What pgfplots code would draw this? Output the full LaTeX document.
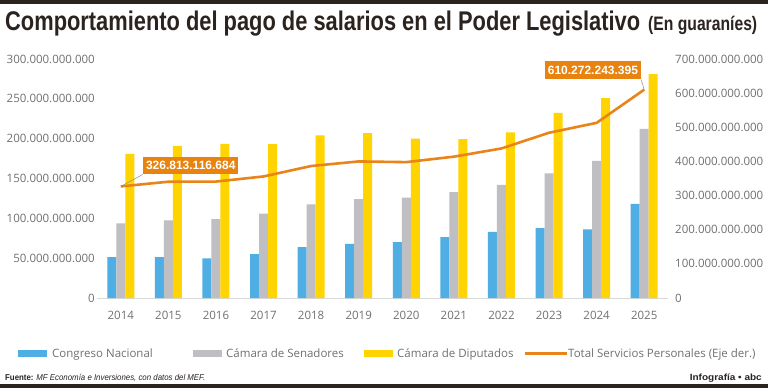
\documentclass[border=0pt]{standalone}
\usepackage{pgfplots}
\pgfplotsset{compat=1.18}
\usepackage{fontspec}
\usepackage{graphicx}
\setmainfont{Open Sans}
\newfontfamily\titlefont{Liberation Sans}
\definecolor{cblue}{HTML}{4FAEE3}
\definecolor{cgray}{HTML}{BEBEC3}
\definecolor{cyellow}{HTML}{FFD400}
\definecolor{corange}{HTML}{E8841A}
\definecolor{cbox}{HTML}{E8830F}
\definecolor{lab}{HTML}{707070}
\definecolor{dark}{HTML}{2A2320}
\begin{document}
\begin{tikzpicture}[x=1pt,y=1pt]
\fill[white] (0,0) rectangle (768,-388);
\fill[dark] (0,0) rectangle (768,-3.5);
\fill[dark] (0,-384) rectangle (768,-388);
\node[anchor=base west, text=dark, inner sep=0] at (5,-30.5) {\titlefont\bfseries\fontsize{27}{27}\selectfont\resizebox{635pt}{\height}{Comportamiento del pago de salarios en el Poder Legislativo}};
\node[anchor=base west, text=dark, inner sep=0] at (648,-30.5) {\titlefont\bfseries\fontsize{19.5}{19.5}\selectfont\resizebox{109pt}{\height}{(En guaraníes)}};

\begin{axis}[
  at={(97pt,-298pt)}, anchor=south west,
  scale only axis, width=571pt, height=239pt,
  xmin=-0.5, xmax=11.5, ymin=0, ymax=300,
  axis x line*=bottom, axis y line*=left,
  x axis line style={draw=black!15, line width=0.8pt, -},
  y axis line style={draw=none},
  major tick length=0pt,
  xtick={0,...,11},
  xticklabels={2014,2015,2016,2017,2018,2019,2020,2021,2022,2023,2024,2025},
  ytick={0,50,100,150,200,250,300},
  yticklabels={0,50.000.000.000,100.000.000.000,150.000.000.000,200.000.000.000,250.000.000.000,300.000.000.000},
  ticklabel style={text=lab, font=\fontsize{11.5}{12}\selectfont},
  yticklabel style={inner sep=0pt, anchor=east, xshift=-2pt},
  xticklabel style={inner sep=0pt, anchor=base, yshift=-21pt},
  clip=false,
]
\addplot[ybar, bar width=9pt, bar shift=-9pt, fill=cblue, draw=none] coordinates {
 (0,51.4) (1,51.4) (2,49.8) (3,55.2) (4,64) (5,68) (6,70) (7,76.5) (8,83) (9,87.8) (10,86) (11,118)};
\addplot[ybar, bar width=9pt, bar shift=0pt, fill=cgray, draw=none] coordinates {
 (0,93.7) (1,97.5) (2,99) (3,105.8) (4,117.5) (5,124) (6,126) (7,133) (8,142) (9,156.4) (10,172) (11,212.4)};
\addplot[ybar, bar width=9pt, bar shift=9pt, fill=cyellow, draw=none] coordinates {
 (0,181) (1,191) (2,193.6) (3,193) (4,204) (5,207) (6,200) (7,199.5) (8,208) (9,232.5) (10,251) (11,281)};
\end{axis}

\begin{axis}[
  at={(97pt,-298pt)}, anchor=south west,
  scale only axis, width=571pt, height=239pt,
  xmin=-0.5, xmax=11.5, ymin=0, ymax=700,
  axis x line=none, axis y line*=right,
  y axis line style={draw=none},
  major tick length=0pt,
  ytick={0,100,200,300,400,500,600,700},
  yticklabels={0,100.000.000.000,200.000.000.000,300.000.000.000,400.000.000.000,500.000.000.000,600.000.000.000,700.000.000.000},
  ticklabel style={text=lab, font=\fontsize{11.5}{12}\selectfont},
  yticklabel style={inner sep=0pt, anchor=west, xshift=7pt},
  clip=false,
]
\addplot[corange, line width=2.6pt, no marks] coordinates {
 (0,326.813) (1,340.6) (2,341) (3,356) (4,386.6) (5,400) (6,398) (7,414) (8,438) (9,484) (10,513) (11,610.272)};
\draw[black!45, line width=0.5pt] (axis cs:0,326.813) -- ++(22pt,12pt)
  node[anchor=south west, fill=cbox, text=white, inner xsep=3pt, inner ysep=4.5pt, text height=8.5pt, text depth=0pt, font=\titlefont\bfseries\fontsize{12}{12}\selectfont] {326.813.116.684};
\draw[black!45, line width=0.5pt] (axis cs:11,610.272) -- ++(-3pt,10pt)
  node[anchor=south east, fill=cbox, text=white, inner xsep=3pt, inner ysep=5pt, text height=8.5pt, text depth=0pt, font=\titlefont\bfseries\fontsize{12}{12}\selectfont] {610.272.243.395};
\end{axis}

% legend
\fill[cblue] (18,-349.5) rectangle (47,-357);
\node[anchor=base west, inner sep=0, text=lab, font=\fontsize{11.5}{12}\selectfont] at (52,-357.5) {Congreso Nacional};
\fill[cgray] (193,-349.5) rectangle (222,-357);
\node[anchor=base west, inner sep=0, text=lab, font=\fontsize{11.5}{12}\selectfont] at (226,-357.5) {Cámara de Senadores};
\fill[cyellow] (364,-349.5) rectangle (393,-357);
\node[anchor=base west, inner sep=0, text=lab, font=\fontsize{11.5}{12}\selectfont] at (397,-357.5) {Cámara de Diputados};
\draw[corange, line width=2.6pt] (525,-353.2) -- (567,-353.2);
\node[anchor=base west, inner sep=0, text=lab, font=\fontsize{11.5}{12}\selectfont] at (568,-357.5) {Total Servicios Personales (Eje der.)};

% footer
\node[anchor=base west, inner sep=0, text=dark] at (5,-380) {\titlefont\fontsize{8.5}{9}\selectfont\resizebox{200pt}{\height}{\textbf{Fuente:} \textit{MF Economía e Inversiones, con datos del MEF.}}};
\node[anchor=base east, inner sep=0, text=dark] at (762,-380) {\titlefont\bfseries\fontsize{9}{9}\selectfont\resizebox{72pt}{\height}{Infografía • abc}};
\end{tikzpicture}
\end{document}
